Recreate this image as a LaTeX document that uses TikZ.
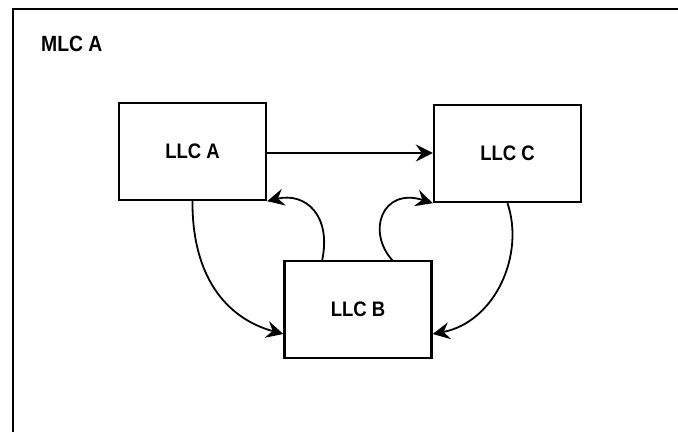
\documentclass[tikz,border=0pt]{standalone}
\usepackage{fontspec}
\setmainfont{Liberation Sans}[FakeStretch=0.88]
\usetikzlibrary{arrows.meta}
\tikzset{
  llcbox/.style={draw, line width=2.4pt, minimum width=147pt, minimum height=97pt, inner sep=0pt, font=\fontsize{21}{23}\selectfont\bfseries},
  conn/.style={line width=1.8pt, -{Stealth[length=17pt,width=17pt,inset=6pt]}},
}
\begin{document}
\begin{tikzpicture}[x=1pt,y=-1pt]
\useasboundingbox (0,0) rectangle (678,432);
\draw[line width=2.4pt] (13,432) -- (13,9) -- (678,9);
\node[anchor=west, inner sep=0pt, font=\fontsize{22}{24}\selectfont\bfseries] (mlc) at (41,44) {MLC A};
\node[llcbox] (a) at (192.5,151.5) {LLC A};
\node[llcbox] (c) at (507.5,153.5) {LLC C};
\node[llcbox] (b) at (358,309.5) {LLC B};
\draw[conn] (a.east |- 0,153) -- (c.west |- 0,153);
\draw[conn] (a.south) .. controls (192,275) and (225,318) .. (b.west |- 0,334);
\draw[conn] (c.south) .. controls (525,255) and (495,322) .. (b.east |- 0,334);
\coordinate (bta) at (322,261);
\coordinate (btc) at (393,261);
\draw[conn] (bta) .. controls (332,215) and (305,192) .. (a.south east);
\draw[conn] (btc) .. controls (366,232) and (382,187) .. (c.south west);
\end{tikzpicture}
\end{document}
